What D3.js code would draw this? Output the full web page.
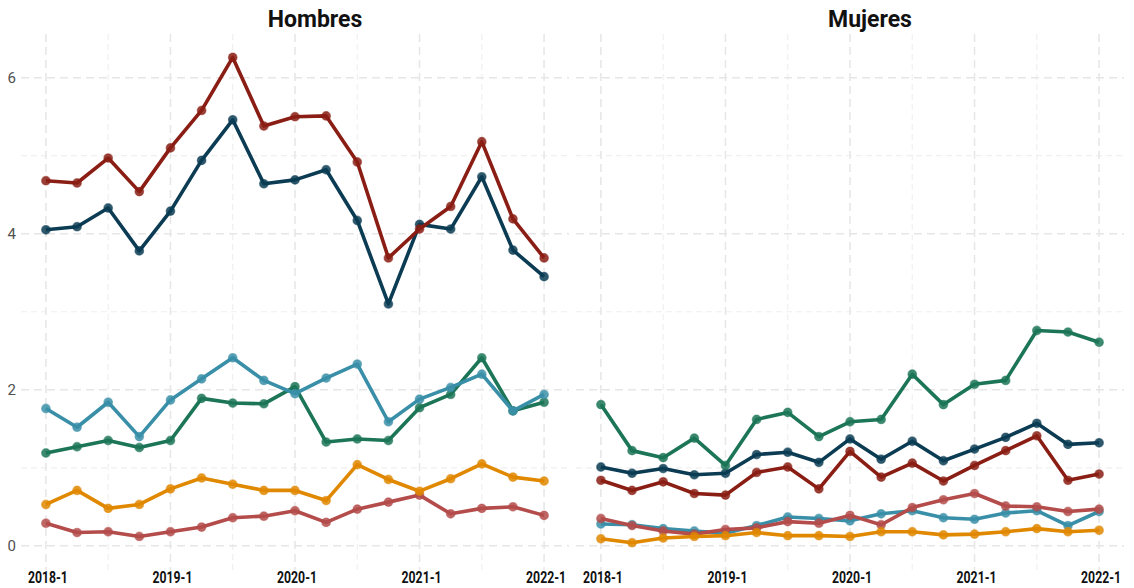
<!DOCTYPE html>
<html>
<head>
<meta charset="utf-8">
<script src="https://cdn.jsdelivr.net/npm/d3@7"></script>
<style>
  body { margin: 0; background: #fff; }
  #chart { width: 1134px; height: 588px; }
</style>
</head>
<body>
<div id="chart"></div>
<script>
// quarters 2018-1 .. 2022-1
var quarters = ["2018-1","2018-2","2018-3","2018-4","2019-1","2019-2","2019-3","2019-4",
  "2020-1","2020-2","2020-3","2020-4","2021-1","2021-2","2021-3","2021-4","2022-1"];
var tickLabels = ["2018-1","2019-1","2020-1","2021-1","2022-1"];
var yTicks = [0, 2, 4, 6];
var panels = ["Hombres", "Mujeres"];
var seriesNames = ["navy", "red", "green", "blue", "rose", "orange"];
var colors = ["#0b3c53", "#8a1e14", "#1c7557", "#3a8fa8", "#b34c4a", "#e08800"];

// Hombres
var hNavy   = [4.05,4.09,4.33,3.78,4.29,4.94,5.46,4.64,4.69,4.82,4.17,3.10,4.12,4.06,4.73,3.79,3.45];
var hRed    = [4.68,4.65,4.97,4.54,5.10,5.58,6.26,5.38,5.50,5.51,4.92,3.69,4.06,4.35,5.18,4.19,3.69];
var hGreen  = [1.19,1.27,1.35,1.26,1.35,1.89,1.83,1.82,2.04,1.33,1.37,1.35,1.77,1.94,2.41,1.73,1.84];
var hBlue   = [1.76,1.52,1.84,1.40,1.87,2.14,2.41,2.12,1.95,2.15,2.33,1.59,1.88,2.03,2.20,1.73,1.94];
var hRose   = [0.29,0.17,0.18,0.12,0.18,0.24,0.36,0.38,0.45,0.30,0.47,0.56,0.65,0.41,0.48,0.50,0.39];
var hOrange = [0.53,0.71,0.48,0.53,0.73,0.87,0.79,0.71,0.71,0.58,1.04,0.85,0.70,0.86,1.05,0.88,0.83];

// Mujeres
var mNavy   = [1.01,0.93,0.99,0.91,0.93,1.17,1.20,1.07,1.37,1.11,1.34,1.09,1.24,1.39,1.57,1.30,1.32];
var mRed    = [0.84,0.71,0.82,0.67,0.65,0.94,1.01,0.73,1.21,0.88,1.06,0.83,1.03,1.22,1.41,0.84,0.92];
var mGreen  = [1.81,1.22,1.13,1.38,1.03,1.62,1.71,1.40,1.59,1.62,2.20,1.81,2.07,2.12,2.76,2.74,2.61];
var mBlue   = [0.28,0.27,0.22,0.19,0.16,0.26,0.37,0.35,0.32,0.41,0.45,0.36,0.34,0.42,0.45,0.26,0.44];
var mRose   = [0.35,0.26,0.19,0.15,0.21,0.23,0.31,0.29,0.39,0.27,0.49,0.59,0.67,0.51,0.50,0.44,0.47];
var mOrange = [0.09,0.04,0.10,0.12,0.13,0.17,0.13,0.13,0.12,0.18,0.18,0.14,0.15,0.18,0.22,0.18,0.20];

var panelData = [
  [hNavy, hRed, hGreen, hBlue, hRose, hOrange],
  [mNavy, mRed, mGreen, mBlue, mRose, mOrange]
];

var width = 1134, height = 588;
var svg = d3.select("#chart").append("svg")
  .attr("width", width)
  .attr("height", height);

var panelLeft = [21, 576];
var panelW = 548;
var plotTop = 34, plotBottom = 570;

var y = d3.scaleLinear().domain([-0.31, 6.56]).range([plotBottom, plotTop]);
var xIdx = d3.scaleLinear().domain([-0.8, 16.8]);

// y tick labels (left panel only)
svg.selectAll(".ylab")
  .data(yTicks)
  .enter()
  .append("text")
  .attr("x", 16)
  .attr("y", function(d) { return y(d) + 5.5; })
  .attr("text-anchor", "end")
  .style("font-family", "Roboto, sans-serif")
  .style("font-size", "15px")
  .style("fill", "#505050")
  .text(function(d) { return d; });

panels.forEach(function(name, p) {
  var x = xIdx.copy().range([panelLeft[p], panelLeft[p] + panelW]);
  var g = svg.append("g");

  // minor horizontal grid
  g.selectAll(".hminor")
    .data([1, 3, 5])
    .enter()
    .append("line")
    .attr("x1", panelLeft[p]).attr("x2", panelLeft[p] + panelW)
    .attr("y1", function(d) { return y(d); })
    .attr("y2", function(d) { return y(d); })
    .style("stroke", "#f0f0f0")
    .style("stroke-width", 1.2)
    .style("stroke-dasharray", "6,4");

  // minor vertical grid
  g.selectAll(".vminor")
    .data([2, 6, 10, 14])
    .enter()
    .append("line")
    .attr("x1", function(d) { return x(d); })
    .attr("x2", function(d) { return x(d); })
    .attr("y1", plotTop).attr("y2", plotBottom)
    .style("stroke", "#f0f0f0")
    .style("stroke-width", 1.2)
    .style("stroke-dasharray", "6,4");

  // major grid
  g.selectAll(".hmajor")
    .data(yTicks)
    .enter()
    .append("line")
    .attr("x1", panelLeft[p]).attr("x2", panelLeft[p] + panelW)
    .attr("y1", function(d) { return y(d); })
    .attr("y2", function(d) { return y(d); })
    .style("stroke", "#e6e6e6")
    .style("stroke-width", 1.5)
    .style("stroke-dasharray", "8,5");

  g.selectAll(".vmajor")
    .data([0, 4, 8, 12, 16])
    .enter()
    .append("line")
    .attr("x1", function(d) { return x(d); })
    .attr("x2", function(d) { return x(d); })
    .attr("y1", plotTop).attr("y2", plotBottom)
    .style("stroke", "#e6e6e6")
    .style("stroke-width", 1.5)
    .style("stroke-dasharray", "8,5");

  // x tick labels
  g.selectAll(".xlab")
    .data(tickLabels)
    .enter()
    .append("text")
    .attr("x", function(d) { return x(quarters.indexOf(d)) + 2; })
    .attr("y", 583)
    .attr("text-anchor", "middle")
    .attr("textLength", 40)
    .attr("lengthAdjust", "spacingAndGlyphs")
    .style("font-family", "Roboto, sans-serif")
    .style("font-weight", "bold")
    .style("font-size", "17px")
    .style("fill", "#111")
    .text(function(d) { return d; });

  // title
  g.append("text")
    .attr("x", panelLeft[p] + panelW / 2 + 20)
    .attr("y", 27)
    .attr("text-anchor", "middle")
    .style("font-family", "Roboto, sans-serif")
    .style("font-weight", "bold")
    .style("font-size", "23px")
    .style("fill", "#111")
    .text(name);

  var line = d3.line()
    .x(function(d, i) { return x(i); })
    .y(function(d) { return y(d); });

  panelData[p].forEach(function(vals, s) {
    g.append("path")
      .datum(vals)
      .attr("d", line)
      .style("fill", "none")
      .style("stroke", colors[s])
      .style("stroke-width", 3.6)
      .style("stroke-linejoin", "round");

    g.selectAll(".pt" + s)
      .data(vals)
      .enter()
      .append("circle")
      .attr("cx", function(d, i) { return x(i); })
      .attr("cy", function(d) { return y(d); })
      .attr("r", 4.3)
      .style("fill", colors[s])
      .style("fill-opacity", 0.85)
      .style("stroke", colors[s])
      .style("stroke-opacity", 0.5)
      .style("stroke-width", 1.2);
  });
});
</script>
</body>
</html>
